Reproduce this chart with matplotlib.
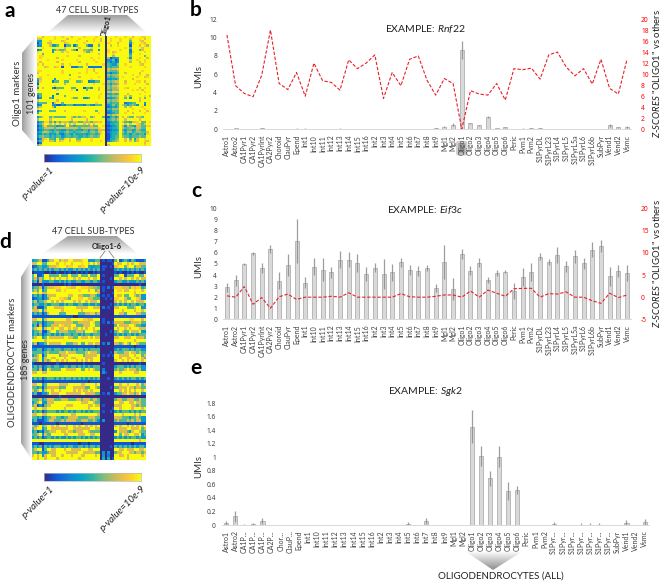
#!/usr/bin/env python3

import numpy as np
import matplotlib
matplotlib.use("Agg")
import matplotlib.pyplot as plt
from matplotlib.colors import LinearSegmentedColormap
from matplotlib.patches import Polygon, FancyBboxPatch

plt.rcParams['font.family'] = ['Lato', 'DejaVu Sans']
plt.rcParams['mathtext.fontset'] = 'custom'
plt.rcParams['mathtext.it'] = 'Lato:italic'
plt.rcParams['mathtext.rm'] = 'Lato'

W, H = 660, 583

cell_types = ['Astro1', 'Astro2', 'CA1Pyr1', 'CA1Pyr2', 'CA1PyrInt', 'CA2Pyr2', 'Choroid', 'ClauPyr', 'Epend',
              'Int1', 'Int10', 'Int11', 'Int12', 'Int13', 'Int14', 'Int15', 'Int16', 'Int2', 'Int3', 'Int4',
              'Int5', 'Int6', 'Int7', 'Int8', 'Int9', 'Mgl1', 'Mgl2', 'Oligo1', 'Oligo2', 'Oligo3', 'Oligo4',
              'Oligo5', 'Oligo6', 'Peric', 'Pvm1', 'Pvm2', 'S1PyrDL', 'S1PyrL23', 'S1PyrL4', 'S1PyrL5',
              'S1PyrL5a', 'S1PyrL6', 'S1PyrL6b', 'SubPyr', 'Vend1', 'Vend2', 'Vsmc']
cell_types_short = ['Astro1', 'Astro2', 'CA1P...', 'CA1P...', 'CA1P...', 'CA2P...', 'Chor...', 'ClauP...', 'Epend',
                    'Int1', 'Int10', 'Int11', 'Int12', 'Int13', 'Int14', 'Int15', 'Int16', 'Int2', 'Int3', 'Int4',
                    'Int5', 'Int6', 'Int7', 'Int8', 'Int9', 'Mgl1', 'Mgl2', 'Oligo1', 'Oligo2', 'Oligo3', 'Oligo4',
                    'Oligo5', 'Oligo6', 'Peric', 'Pvm1', 'Pvm2', 'S1Pyr...', 'S1Pyr...', 'S1Pyr...', 'S1Pyr...',
                    'S1Pyr...', 'S1Pyr...', 'S1Pyr...', 'SubPyr', 'Vend1', 'Vend2', 'Vsmc']

rnf22_umi = [0.02, 0.15, 0, 0.03, 0.1, 0, 0, 0, 0.08, 0.08, 0, 0, 0.01, 0.08, 0, 0, 0, 0, 0.05, 0, 0, 0, 0, 0, 0.1,
             0.3, 0.5, 8.6, 0.65, 0.45, 1.3, 0.12, 0.2, 0, 0.08, 0.12, 0.1, 0.05, 0, 0, 0.03, 0, 0.03, 0, 0.45, 0.22, 0.25]
rnf22_err = [0, 0.03, 0, 0, 0.02, 0, 0, 0, 0.02, 0.02, 0, 0, 0, 0.02, 0, 0, 0, 0, 0.01, 0, 0, 0, 0, 0, 0.03,
             0.1, 0.15, 1.0, 0.05, 0.05, 0.1, 0.03, 0.05, 0, 0.02, 0.05, 0.03, 0.02, 0, 0, 0.01, 0, 0.01, 0, 0.15, 0.05, 0.08]
rnf22_z = [17.1, 7.9, 6.5, 5.9, 9.8, 18.0, 8.3, 7.2, 10.3, 6.0, 12.0, 8.8, 8.5, 7.1, 12.6, 11.0, 12.0, 13.5, 5.6, 10.3,
           7.9, 12.7, 13.3, 8.9, 6.2, 9.2, 8.3, 0, 7.0, 6.4, 6.2, 8.3, 5.3, 11.0, 10.8, 11.1, 9.1, 13.5, 14.0, 11.3,
           9.7, 11.0, 8.2, 12.7, 7.4, 6.4, 12.7]

eif3c_umi = [2.9, 3.55, 5.0, 5.95, 4.6, 6.35, 3.5, 4.9, 7.05, 3.3, 4.75, 4.5, 4.25, 5.4, 5.4, 5.1, 4.1, 4.65, 4.1, 4.25,
             5.15, 4.45, 4.4, 4.65, 2.8, 5.15, 2.75, 5.9, 4.4, 5.1, 3.55, 4.2, 4.3, 2.55, 3.8, 4.25, 5.65, 5.2, 5.8, 4.8,
             5.7, 5.05, 6.3, 6.6, 3.9, 4.35, 4.2]
eif3c_err = [0.4, 0.5, 0.1, 0.1, 0.45, 0.35, 0.75, 1.0, 2.0, 0.5, 0.75, 1.0, 0.5, 0.75, 0.65, 0.8, 0.65, 0.4, 1.35, 0.75,
             0.4, 0.45, 0.45, 0.3, 0.35, 1.55, 1.0, 0.45, 0.4, 0.4, 0.25, 0.3, 0.15, 0.7, 0.8, 0.8, 0.3, 0.25, 0.7, 0.5,
             0.6, 0.5, 0.7, 0.55, 0.85, 0.55, 0.7]
eif3c_z = [0.3, 0, 2.4, -1.6, -0.1, -2.5, 0.1, 0.7, -0.5, 0, 0, 0, 0.2, 0, 1.0, 0, 0, 0, 0, 0,
           0.8, 0.1, 0, 0, 0.2, 0.5, 0.5, 0, 1.4, 0, 1.6, 0.9, 0.2, 1.9, 2.0, 2.0, 0, 0.8, 0.7, 1.2,
           0, 0, -0.8, -1.4, 0.9, -0.1, 0.5]

sgk2_umi = [0.03, 0.13, 0.005, 0.01, 0.06, 0, 0, 0, 0, 0, 0, 0, 0, 0, 0, 0, 0, 0, 0, 0,
            0.02, 0, 0.06, 0, 0, 0, 0, 1.45, 1.02, 0.69, 1.01, 0.5, 0.52, 0, 0, 0, 0.015, 0, 0, 0.005,
            0.005, 0.005, 0, 0, 0.03, 0, 0.04]
sgk2_err = [0.03, 0.08, 0.005, 0.015, 0.04, 0, 0, 0, 0, 0, 0, 0, 0, 0, 0, 0, 0, 0, 0, 0,
            0.02, 0, 0.05, 0, 0, 0, 0, 0.24, 0.15, 0.11, 0.15, 0.13, 0.06, 0, 0, 0, 0.025, 0, 0, 0.02,
            0.02, 0.025, 0, 0, 0.05, 0, 0.05]

# 28 columns left of Oligo1 | the rest, levels 0-9
heat_a = [
    "9979999899899979999899998999|0999899989979998899",
    "7799999899997999989999989979|0989998999799989799",
    "3399989999789999899979989979|0989998999599987999",
    "1499779999978999999899999899|0899979999389998799",
    "2399973359915592599952299599|0979989999199979869",
    "9989999999979999979999899999|0999999989599997999",
    "2499993575569975199665599399|0899998999299957999",
    "8999993999798999999855899999|0897899999289999899",
    "9959999999999999999999999799|0998999999499989999",
    "9889999999998999979999999999|0996999999599999599",
    "9899999979999999999999899899|0613349998399989979",
    "9999899999899999899999989999|0335139999799899899",
    "9799999979999999979999998999|0424239999699979899",
    "8979999999799899999979999998|0543369989999987999",
    "9997899789199922255992222229|0545559999899999899",
    "9999999999999999999989979999|0767789999999999999",
    "8899999999899999999989979999|0655569999999998999",
    "7999999999899999989989998999|0424459979999979999",
    "9999899999999599999999999999|0656679999989989979",
    "9899999999999999979999999899|0545669899999899789",
    "4799999399999899999999899999|0334359999979999999",
    "3899992559955999557992335599|0656779979999889799",
    "1999999999969999999999989998|0535569989998999979",
    "6999999899999999999999999999|0657789999999999999",
    "3979993155599955999155399799|0656679987999979899",
    "8999999989999989199959999799|0546669999989897999",
    "9999999999999999999999999999|0768889999999999899",
    "4599999939999999999999999989|0445459997999989999",
    "2599992999959999999999999899|0656679979699999897",
    "1399953999999985599335999899|0334569959399979599",
    "7999999979999999999999999999|0656679999999979999",
    "4555992799599999999999998999|0545559923455999399",
    "2399993311325552333255325559|0346459753565399299",
    "5799997399999999999999999999|0234359969799998999",
    "8999999999999999999999999999|0546669999989999899",
    "2599955599979999999899995999|0335559997999979979",
    "4999999999999999999999999899|0234559989979999899",
    "9999999999999999999999999999|0657789999999999999",
    "3589957555559975757799579995|0145359797559775999",
    "6999979999999979999979999999|0456579979999979999",
    "2458857475777557755767577879|0234459755477895598",
    "3579979797979797999797979999|0244559979799875799",
    "1368555534459554555555755998|0123459637543775588",
    "2457777577777777757777777899|0234459755675775599",
    "1345543544335445443553554777|0123349535534654499",
    "3467654564456554556654665789|0234459646645665579",
    "2354534353245435344434554589|0134459545355455389",
    "3565545455345545544545655699|0134559655455565599",
    "1378955495589799559999899999|0144569979594799899",
    "3579977597899799779999899989|0245679979795799879",
    "0299999999999999999999999999|0999999999999999799",
    "5799999999999999999999999999|0799999999999999899",
]

heat_d = [
    "3457114779968779977789933355|0101105913531531113",
    "7799559999799899799989979797|0000019779979799777",
    "1245335777899978899788943344|0110107899589957755",
    "3535353535535353353535353535|0100003535353535353",
    "0111100100100101001010100101|0000001010010101001",
    "5911399555595559555955595559|0100005599155599559",
    "5737599797979979979799979779|0000109979799797977",
    "3517333553353535335533553553|0100003553353335353",
    "0000100000000101000000000000|0000000000000000100",
    "3557157778889988779988877665|0102018887775878845",
    "5759359999779899999899979957|0100009889779989979",
    "9979779999999999999999999997|0000019999999979999",
    "3535137777999997799775557753|0101009779559975733",
    "1234135899988775999889977555|0010108899755998733",
    "5735579979797999979799797779|0000007979799797779",
    "3553353355533535533553353353|0000103535353553553",
    "5711159997777999997777799777|0201007799955579933",
    "7779379999997999999979999999|0000009997999979979",
    "3535137999955599999555778857|0000009977599997755",
    "1111111111111111100111111111|0000001111111111111",
    "7799379999999977999998877999|0100009999998899979",
    "5535135557777777755777779855|0102017777555777855",
    "3517135577798777995557779955|0000005977779975533",
    "5799379979977997977979799799|0000009799797999777",
    "3557115799577775557775999775|0000105797559777933",
    "3535135535353555355353553555|0010003535355353555",
    "5799359777777997755977797977|0000007799777997775",
    "9999979999999999999999999999|0000009999999979999",
    "5713359777779955577955977977|0203007757975997555",
    "1111111111111111111111111101|0000001111111101111",
    "3355135535553555353553535555|0000003535553535533",
    "5555357555577797775555797775|0000107555779775755",
    "3579159999957779999995777779|0101019977779979957",
    "7779379977999799779999777999|0000009979977997975",
    "5579375799797979997979797999|0000007997979799979",
    "1000000000100000000001000000|0100000000000000100",
    "3535135535533553553535353555|0000003555353535533",
    "5537139755559977779955979755|0200005755797775733",
    "7799779999999999999999999999|0310009979999977999",
    "9999999999999999999999999999|0000009999999999999",
    "3535135553535355353535353535|0001003535353553535",
    "1111011111111111111111101111|0000001111111111111",
    "7799359999977779999977999979|0000009979979997957",
    "5535157777755599977777559975|0000105577797757755",
    "7579379979979999979797797999|0000009979797979979",
    "3511335977799977777799777755|0102003557797757933",
    "0000000000010000000000000000|0000000000000000000",
    "5557357775557775557757775775|0000005775577755755",
    "3579337779999999999977799755|0000009977997797755",
    "5713157799999977799999977977|0100007779999775755",
    "9799779999999799999999979999|0000019979999799979",
    "3535135555353553535535353555|0100103535553535355",
    "7799779999999999779999999997|0000009997999979799",
    "5535135577553557777555577755|0000007775553557533",
    "3511135775557577775577755753|0300005755575757733",
    "1110111111011111111101111111|0000001111101111111",
    "7579579979799979979799797979|0000007979979797979",
    "5799359977777779977777779977|0000009977799777957",
    "3513155777997797757779975555|0000003977753799755",
    "5579375599999779999777997799|0000009959779977935",
    "3535135535353353535535353535|0000003535353553533",
    "9999999999999999999999999999|0000009999999999799",
    "1110011111111111111011101111|0000001111111011111",
    "3535153535553535533553535535|0000105353535353553",
    "5799159977999799777799977999|0000009977977799779",
    "5535335777999977777997777755|0303005779997757757",
    "7979379977997999799977999979|0302009977979999979",
    "9979979999799999999799999999|0404019999979999999",
]

parula = LinearSegmentedColormap.from_list('parula_like',
    ['#352a87', '#0f5cdd', '#1481d6', '#06a4ca', '#2eb7a4', '#87bf77', '#d1bb59', '#fec832', '#f9fb0e'])


def px_axes(x0, y0, x1, y1, **kw):
    return fig.add_axes([x0 / W, 1 - y1 / H, (x1 - x0) / W, (y1 - y0) / H], **kw)


def heat_matrix(rows):
    out = []
    for r in rows:
        left, right = r.split('|')
        s = left.ljust(28, '9')[:28] + right.ljust(19, '9')[:19]
        out.append([int(c) for c in s])
    return np.array(out)


def gradient(poly, grad, extent, cmap_vals=(0.62, 1.0)):
    # grey fade clipped to a polygon
    img = np.linspace(cmap_vals[0], cmap_vals[1], 64)
    img = img[:, None] if grad == 'v' else img[None, :]
    im = bg.imshow(img, extent=extent, cmap='gray', vmin=0, vmax=1, aspect='auto', zorder=1)
    im.set_clip_path(Polygon(poly, closed=True, transform=bg.transData))


def heatmap(rows, x0, y0, x1, y1):
    ax = px_axes(x0, y0, x1, y1)
    ax.imshow(heat_matrix(rows), cmap=parula, vmin=0, vmax=9, aspect='auto', interpolation='nearest')
    ax.set_xticks([])
    ax.set_yticks([])
    for s in ax.spines.values():
        s.set_visible(False)


def colorbar(x0, y0, x1, y1):
    ax = px_axes(x0, y0, x1, y1)
    ax.imshow(np.linspace(0, 1, 128)[None, :], cmap=parula, aspect='auto')
    ax.set_xticks([])
    ax.set_yticks([])
    for s in ax.spines.values():
        s.set_color('#bbbbbb')
        s.set_linewidth(0.5)


def bar_panel(box, labels, vals, errs, ymax, yticks, yticklabels, title, title_y, z=None, zlim=None, zticks=None):
    ax = px_axes(*box)
    ax.patch.set_alpha(0)
    x = np.arange(len(labels))
    ax.bar(x, vals, width=0.46, color='#d9d9d9', edgecolor='#b0b0b0', linewidth=0.6, zorder=2)
    ax.errorbar(x, vals, yerr=errs, fmt='none', ecolor='#868686', elinewidth=0.9, capsize=0, zorder=3, alpha=0.8)
    ax.set_xlim(-0.5, len(labels) - 0.5)
    ax.set_ylim(0, ymax)
    ax.set_xticks(x)
    ax.set_xticklabels(labels, rotation=90, fontsize=5, color='#404040')
    ax.set_yticks(yticks)
    ax.set_yticklabels(yticklabels, fontsize=4.8, fontweight='bold', family='Noto Sans', color='#404040')
    ax.tick_params(axis='x', length=0, pad=4)
    ax.tick_params(axis='y', length=0, pad=4)
    for name in ['top', 'left', 'right']:
        ax.spines[name].set_visible(False)
    ax.spines['bottom'].set_color('#d9d9d9')
    ax.spines['bottom'].set_linewidth(0.7)
    bg.text(199, (box[1] + box[3]) / 2 + 2, 'UMIs', rotation=90, fontsize=7, ha='center', va='center', color='#303030')
    bg.text(425, title_y, title, fontsize=7.5, ha='center', va='center', color='#202020')
    if z is not None:
        ax2 = ax.twinx()
        ax2.plot(x, z, '--', color='#e8202a', linewidth=0.8, dashes=(3, 1.6), zorder=4)
        ax2.set_ylim(*zlim)
        ax2.set_yticks(zticks)
        ax2.set_yticklabels([str(t) for t in zticks], fontsize=4.8, fontweight='bold', family='Noto Sans', color='#ff0000')
        ax2.tick_params(axis='y', length=0, pad=7)
        for s in ax2.spines.values():
            s.set_visible(False)
        ax2.patch.set_alpha(0)
        bg.text(656, (box[1] + box[3]) / 2 - 1, '$\\it{Z}$-$\\it{SCORES}$ "OLIGO1" vs others', rotation=90,
                fontsize=6.8, ha='center', va='center', color='#202020')
    return ax


fig = plt.figure(figsize=(W / 100, H / 100), dpi=100)

bg = fig.add_axes([0, 0, 1, 1], zorder=0)
bg.set_xlim(0, W)
bg.set_ylim(H, 0)
bg.axis('off')
bg.set_autoscale_on(False)

# grey fans around the heatmaps
gradient([(68, 15), (127, 15), (147, 33), (47, 33)], 'v', (47, 147, 33, 15))
gradient([(22, 53), (36, 36), (36, 146), (22, 130)], 'h', (22, 36, 146, 36))
gradient([(68, 236), (117, 236), (138, 254), (42, 254)], 'v', (42, 138, 254, 236))
gradient([(21, 277), (32, 259), (32, 460), (21, 443)], 'h', (21, 32, 460, 259))
im = bg.imshow(np.linspace(1.0, 0.55, 64)[:, None], extent=(465, 523, 570, 551), cmap='gray', vmin=0, vmax=1,
               aspect='auto', zorder=1)
im.set_clip_path(Polygon([(465, 551), (523, 551), (493, 570)], closed=True, transform=bg.transData))

heatmap(heat_a, 36.7, 36, 150, 146)
heatmap(heat_d, 32, 259, 145.7, 460)
colorbar(44, 154, 141, 162)
colorbar(44, 473, 141, 481)

bg.add_patch(FancyBboxPatch((458.5, 143.5), 6.5, 9.5, boxstyle='round,pad=1.5', facecolor='#a8a8a8',
                            edgecolor='#d0d0d0', linewidth=1.5, zorder=2))

bar_panel((222.6, 19, 631.4, 129.3), cell_types, rnf22_umi, rnf22_err, 12, list(range(0, 13, 2)),
          [str(t) for t in range(0, 13, 2)], 'EXAMPLE: $\\it{Rnf22}$', 29, rnf22_z, (0, 20), list(range(0, 21, 2)))
bar_panel((222.6, 208.7, 631.4, 319.3), cell_types, eif3c_umi, eif3c_err, 10, list(range(0, 11)),
          [str(t) for t in range(0, 11)], 'EXAMPLE: $\\it{Eif3c}$', 210, eif3c_z, (-5, 20), [-5, 0, 5, 10, 15, 20])
bar_panel((221.5, 403, 649.2, 525), cell_types_short, sgk2_umi, sgk2_err, 1.8, [0, 0.2, 0.4, 0.6, 0.8, 1, 1.2, 1.4, 1.6, 1.8],
          ['0', '0.2', '0.4', '0.6', '0.8', '1', '1.2', '1.4', '1.6', '1.8'], 'EXAMPLE: $\\it{Sgk2}$', 392)

# panel letters
for letter, lx, ly in [('a', 10, 11), ('b', 196, 10), ('c', 196, 191), ('d', 5, 242), ('e', 196, 368)]:
    bg.text(lx, ly, letter, fontsize=15, fontweight='bold', ha='center', va='center', color='black')

# heatmap annotations
bg.text(97, 10.5, '47 CELL SUB-TYPES', fontsize=6.5, ha='center', va='center', color='#303030')
bg.text(93, 232, '47 CELL SUB-TYPES', fontsize=6.5, ha='center', va='center', color='#303030')
bg.text(106, 26, 'Oligo1', rotation=75, fontsize=5.5, fontweight='bold', ha='center', va='center', color='#202020')
bg.text(107, 246, 'Oligo1-6', fontsize=5.5, fontweight='bold', ha='center', va='center', color='#202020')
bg.plot([100, 105], [258, 251], color='#707070', lw=0.5, zorder=3)
bg.plot([114, 109], [258, 251], color='#707070', lw=0.5, zorder=3)
bg.text(17, 93, 'Oligo1 markers', rotation=90, fontsize=7, ha='center', va='center', color='#303030')
bg.text(31, 93, '101 genes', rotation=90, fontsize=6.5, ha='center', va='center', color='#303030')
bg.text(13, 362, 'OLIGODENDROCYTE markers', rotation=90, fontsize=6.8, ha='center', va='center', color='#303030')
bg.text(26, 360, '185 genes', rotation=90, fontsize=6.5, ha='center', va='center', color='#303030')

for cy in [165, 484]:
    bg.text(50, cy, 'p-value=1', rotation=45, rotation_mode='anchor', fontsize=7, style='italic',
            ha='right', va='top', color='#202020')
    bg.text(141, cy, 'p-value=10e-9', rotation=45, rotation_mode='anchor', fontsize=7, style='italic',
            ha='right', va='top', color='#202020')

bg.text(500.7, 576.5, 'OLIGODENDROCYTES (ALL)', fontsize=7, ha='center', va='center', color='#202020')

fig.savefig('out.png', dpi=100)
